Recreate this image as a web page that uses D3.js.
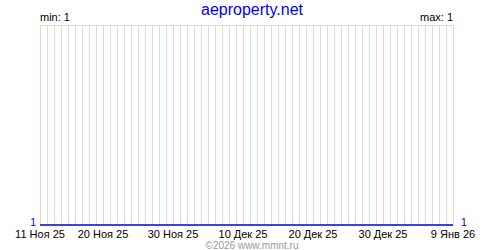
<!DOCTYPE html>
<html><head><meta charset="utf-8">
<script src="https://cdn.jsdelivr.net/npm/d3@7"></script>
<style>body{margin:0;background:#fff}svg{display:block}</style>
</head><body>
<svg id="c" width="500" height="250"></svg>
<script>
const title = "aeproperty.net";
const footer = "©2026 www.mmnt.ru";
const startDate = "2025-11-11";
const endDate = "2026-01-09";
const values = [1,1,1,1,1,1,1,1,1,1,1,1,1,1,1,1,1,1,1,1,1,1,1,1,1,1,1,1,1,1,
                1,1,1,1,1,1,1,1,1,1,1,1,1,1,1,1,1,1,1,1,1,1,1,1,1,1,1,1,1,1];
const tickDates = ["2025-11-11","2025-11-20","2025-11-30","2025-12-10","2025-12-20","2025-12-30","2026-01-09"];
const tickLabels = ["11 Ноя 25","20 Ноя 25","30 Ноя 25","10 Дек 25","20 Дек 25","30 Дек 25","9 Янв 26"];

const parse = d3.utcParse("%Y-%m-%d");
const t0 = parse(startDate), t1 = parse(endDate);
const days = d3.utcDay.range(t0, d3.utcDay.offset(t1, 1));
const data = days.map((d, i) => ({date: d, v: values[i]}));
const minV = d3.min(values), maxV = d3.max(values);

const svg = d3.select("#c");
const font = "Liberation Sans, Arial, sans-serif";
const x = d3.scaleUtc().domain([t0, t1]).range([40, 453]);
const y = d3.scaleLinear().domain([minV, minV === maxV ? maxV + 1 : maxV]).range([225, 25]);

// daily grid
const tickSet = new Set(tickDates);
const fmt = d3.utcFormat("%Y-%m-%d");
svg.append("g").selectAll("line").data(days).join("line")
  .attr("x1", d => Math.round(x(d)) + 0.5).attr("x2", d => Math.round(x(d)) + 0.5)
  .attr("y1", 25).attr("y2", 225)
  .attr("stroke", d => tickSet.has(fmt(d)) ? "#ffc8c8" : "#dddddd")
  .attr("stroke-width", 1);
// top border
svg.append("line").attr("x1", 40).attr("x2", 454).attr("y1", 25.5).attr("y2", 25.5)
  .attr("stroke", "#dddddd");

// data line
svg.append("path").datum(data)
  .attr("fill", "none").attr("stroke", "#0000e0").attr("stroke-width", 1.5)
  .attr("d", d3.line().x(d => Math.round(x(d.date))).y(d => y(d.v)));

// x tick labels
svg.append("g").selectAll("text").data(tickDates).join("text")
  .attr("x", (d) => x(parse(d)))
  .attr("y", 237.5)
  .attr("text-anchor", "middle")
  .attr("font-family", font).attr("font-size", 11).attr("fill", "#000")
  .text((d, i) => tickLabels[i]);

// min / max
svg.append("text").attr("x", 40).attr("y", 21).attr("font-family", font).attr("font-size", 11)
  .text("min: " + minV);
svg.append("text").attr("x", 453).attr("y", 21).attr("text-anchor", "end").attr("font-family", font).attr("font-size", 11)
  .text("max: " + maxV);

// end value labels
svg.append("text").attr("x", 36).attr("y", 226).attr("text-anchor", "end").attr("font-family", font)
  .attr("font-size", 10.5).attr("fill", "#0000e0").text(values[0]);
svg.append("text").attr("x", 461).attr("y", 226).attr("text-anchor", "start").attr("font-family", font)
  .attr("font-size", 10.5).attr("fill", "#0000e0").text(values[values.length - 1]);

// title & footer
svg.append("text").attr("x", 252).attr("y", 15).attr("text-anchor", "middle").attr("font-family", font)
  .attr("font-size", 16).attr("fill", "#0000ff").text(title);
svg.append("text").attr("x", 252).attr("y", 248.5).attr("text-anchor", "middle").attr("font-family", font)
  .attr("font-size", 10).attr("fill", "#999").text(footer);
</script>
</body></html>
